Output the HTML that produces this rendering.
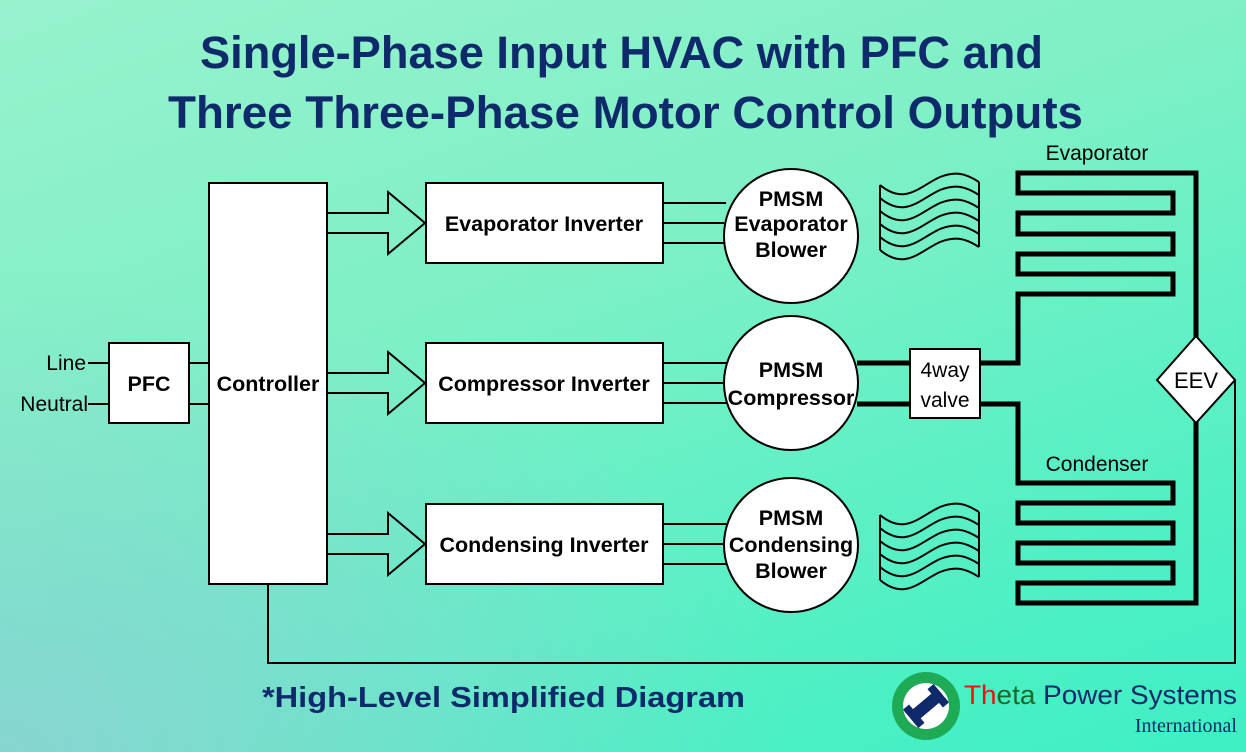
<!DOCTYPE html>
<html><head><style>
html,body{margin:0;padding:0}
body{width:1246px;height:752px;overflow:hidden;background:linear-gradient(160deg,#97f2cc 0%,#7ef0c6 40%,#4ef0c4 80%,#3ef0c4 100%);position:relative;font-family:"Liberation Sans",sans-serif}
.bg2{position:absolute;inset:0;background:radial-gradient(ellipse at 0% 100%,rgba(140,210,210,0.9) 0%,rgba(140,210,210,0) 45%)}
</style></head><body>
<div class="bg2"></div>
<svg width="1246" height="752" style="position:absolute;left:0;top:0" font-family="Liberation Sans, sans-serif">
<defs>
<g id="wave">
<path d="M0,0 C25,21 40,1 60,-8 C75,-14 85,-12 99,-3" fill="none" stroke="#000" stroke-width="2"/>
</g>
<g id="waves">
<use href="#wave" y="0"/><use href="#wave" y="13"/><use href="#wave" y="26"/><use href="#wave" y="39"/><use href="#wave" y="52"/><use href="#wave" y="65"/>
<line x1="0" y1="0" x2="0" y2="65" stroke="#000" stroke-width="2"/>
<line x1="99" y1="-3" x2="99" y2="62" stroke="#000" stroke-width="2"/>
</g>
</defs>
<text x="200" y="68" textLength="843" lengthAdjust="spacingAndGlyphs" font-size="45" font-weight="bold" fill="#0e2a6a">Single-Phase Input HVAC with PFC and</text>
<text x="168" y="128" textLength="915" lengthAdjust="spacingAndGlyphs" font-size="45" font-weight="bold" fill="#0e2a6a">Three Three-Phase Motor Control Outputs</text>

<g stroke="#000" stroke-width="2" fill="#fff">
<line x1="88" y1="363" x2="109" y2="363"/><line x1="88" y1="404" x2="109" y2="404"/>
<line x1="189" y1="363" x2="209" y2="363"/><line x1="189" y1="404" x2="209" y2="404"/>
<rect x="109" y="343" width="80" height="80"/>
<rect x="209" y="183" width="118" height="401"/>
<rect x="426" y="183" width="237" height="80"/>
<rect x="426" y="343" width="237" height="80"/>
<rect x="426" y="504" width="237" height="80"/>
<path d="M328,213 H388 V192 L425,223 L388,254 V233 H328" fill="none"/>
<path d="M328,373 H388 V352 L425,383 L388,414 V393 H328" fill="none"/>
<path d="M328,534 H388 V513 L425,544 L388,575 V554 H328" fill="none"/>
<line x1="663" y1="203" x2="726" y2="203"/><line x1="663" y1="223" x2="724" y2="223"/><line x1="663" y1="243" x2="726" y2="243"/>
<line x1="663" y1="363" x2="727" y2="363"/><line x1="663" y1="383" x2="724" y2="383"/><line x1="663" y1="403" x2="727" y2="403"/>
<line x1="663" y1="524" x2="727" y2="524"/><line x1="663" y1="544" x2="724" y2="544"/><line x1="663" y1="564" x2="727" y2="564"/>
<circle cx="791" cy="236" r="67"/>
<circle cx="791" cy="383" r="67"/>
<circle cx="791" cy="545" r="67"/>
<path d="M268,584 V663 H1235 V380" fill="none"/>
</g>
<g stroke="#000" stroke-width="5" fill="none" stroke-linejoin="miter">
<line x1="857" y1="363" x2="910" y2="363"/>
<line x1="857" y1="404" x2="910" y2="404"/>
<path d="M980,363 H1018 V294 H1173 V274 H1018 V254 H1173 V234 H1018 V213 H1173 V193 H1018 V173 H1196 V340"/>
<path d="M980,404 H1018 V483 H1173 V503 H1018 V523 H1173 V543 H1018 V563 H1173 V583 H1018 V603 H1196 V420"/>
</g>
<rect x="910" y="349" width="70" height="69" fill="#fff" stroke="#000" stroke-width="2"/>
<polygon points="1196,336 1235,380 1196,423 1157,380" fill="#fff" stroke="#000" stroke-width="2"/>
<use href="#waves" x="880" y="185"/>
<use href="#waves" x="880" y="515"/>

<g font-size="21.5" font-weight="bold" fill="#000" text-anchor="middle">
<text x="149" y="391">PFC</text>
<text x="268" y="391">Controller</text>
<text x="544" y="231">Evaporator Inverter</text>
<text x="544" y="391">Compressor Inverter</text>
<text x="544" y="552">Condensing Inverter</text>
<text x="791" y="206">PMSM</text><text x="791" y="231">Evaporator</text><text x="791" y="257">Blower</text>
<text x="791" y="377">PMSM</text><text x="791" y="405">Compressor</text>
<text x="791" y="525">PMSM</text><text x="791" y="552">Condensing</text><text x="791" y="578">Blower</text>
</g>
<g font-size="21" fill="#000">
<text x="86" y="370" text-anchor="end">Line</text>
<text x="88" y="411" text-anchor="end">Neutral</text>
<text x="1097" y="160" text-anchor="middle">Evaporator</text>
<text x="1097" y="471" text-anchor="middle">Condenser</text>
<text x="945" y="377" text-anchor="middle">4way</text>
<text x="945" y="407" text-anchor="middle">valve</text>
<text x="1196" y="388" text-anchor="middle" font-size="22">EEV</text>
</g>
<text x="262" y="707" textLength="483" lengthAdjust="spacingAndGlyphs" font-size="29" font-weight="bold" fill="#0e2a6a">*High-Level Simplified Diagram</text>
<circle cx="926" cy="706" r="34" fill="#1faa55"/>
<circle cx="926" cy="706" r="23" fill="#fff"/>
<g transform="rotate(-40 926 706)"><rect x="908" y="700" width="36" height="12" fill="#0e2a6a"/><rect x="906" y="694" width="8" height="24" fill="#0e2a6a"/><rect x="938" y="694" width="8" height="24" fill="#0e2a6a"/></g>
<text x="964" y="704" textLength="273" lengthAdjust="spacingAndGlyphs" font-size="27" fill="#0e2a6a"><tspan fill="#f01010">Th</tspan><tspan fill="#1b6a2a">eta</tspan> Power Systems</text>
<text x="1237" y="732" text-anchor="end" font-size="20" font-family="Liberation Serif, serif" fill="#0e2a6a">International</text>
</svg>
</body></html>
